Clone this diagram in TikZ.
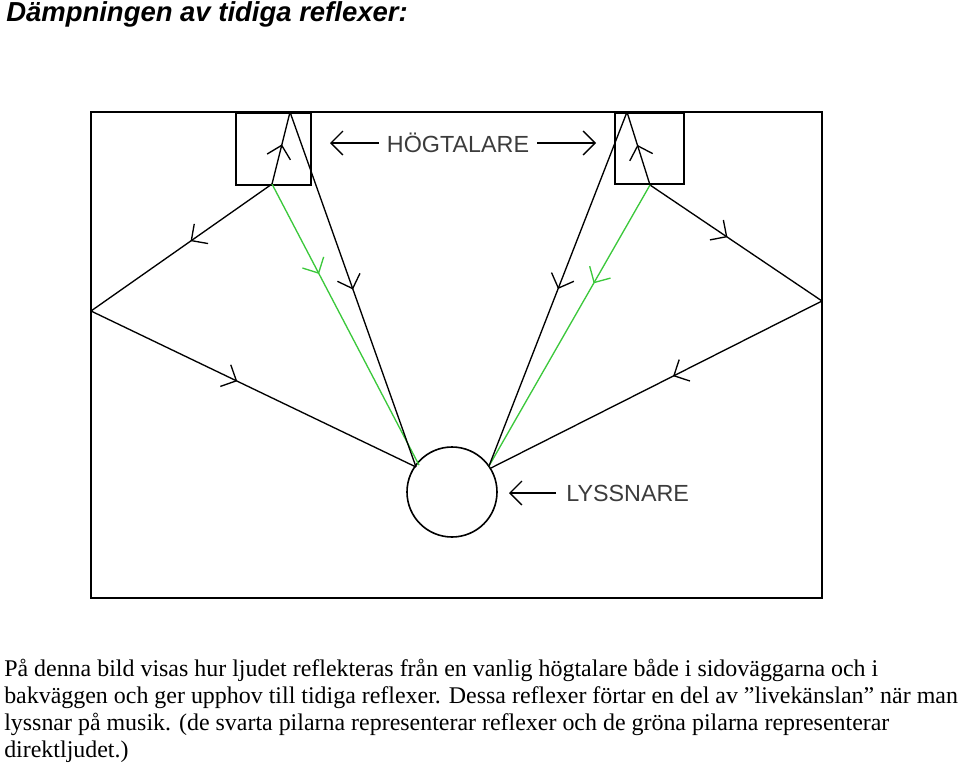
\documentclass[tikz,border=0pt]{standalone}
\usepackage{fontspec}
\setmainfont{Liberation Serif}
\setsansfont{Liberation Sans}
\usetikzlibrary{arrows.meta,decorations.markings}
\definecolor{grn}{RGB}{60,200,60}
\definecolor{lbl}{RGB}{60,60,60}
\tikzset{
  ray/.style={line width=1pt,postaction={decorate},decoration={markings,mark=at position #1 with {\arrow{Straight Barb[length=9pt,width=18pt,line width=1pt]}}}},
  ray/.default=0.5,
  greenray/.style={ray=#1,draw=grn},
  lblarrow/.style={line width=1pt,-{Straight Barb[length=9pt,width=18pt]}},
  lbl/.style={font=\sffamily\fontsize{17.5}{20}\selectfont,text=lbl,inner sep=0pt},
  body/.style={anchor=base west,inner sep=0pt,font=\fontsize{17.95}{20}\selectfont}
}
\begin{document}
\begin{tikzpicture}[x=0.75pt,y=-0.75pt]
\useasboundingbox (0,0) rectangle (960,772);
\node[anchor=base west,inner sep=0pt,font=\sffamily\bfseries\itshape\fontsize{20.6}{24}\selectfont] (title) at (6,21) {Dämpningen av tidiga reflexer:};
% room
\draw[line width=1.2pt] (91,112) rectangle (822,598);
\node[draw,line width=1.2pt,minimum width=75*0.75pt,minimum height=72*0.75pt,anchor=north west,inner sep=0] (spkL) at (235,112) {};
\node[draw,line width=1.2pt,minimum width=69*0.75pt,minimum height=71*0.75pt,anchor=north west,inner sep=0] (spkR) at (614,112) {};
\node[draw,line width=1.2pt,circle,minimum size=90*0.75pt,inner sep=0] (lis) at (452,492) {};
% points
\coordinate (sL) at (272,184);
\coordinate (sR) at (650,185);
\coordinate (wL) at (91,311);
\coordinate (wR) at (822,301);
\coordinate (tL) at (290,112);
\coordinate (tR) at (627,112);
\coordinate (eL1) at (416,467);
\coordinate (eL2) at (419,465);
\coordinate (eR1) at (489,466);
\coordinate (eR2) at (491,468);
% left
\draw[ray=0.45] (sL) -- (wL);
\draw[ray=0.45] (wL) -- (eL1);
\draw[greenray=0.32] (sL) -- (eL2);
\draw[ray=0.55] (sL) -- (tL);
\draw[ray=0.5] (tL) -- (eL1);
% right
\draw[ray=0.45] (sR) -- (wR);
\draw[ray=0.45] (wR) -- (eR2);
\draw[greenray=0.35] (sR) -- (eR1);
\draw[ray=0.55] (sR) -- (tR);
\draw[ray=0.5] (tR) -- (eR1);
% labels
\node[lbl] (hog) at (458,143) {HÖGTALARE};
\coordinate (hl) at (330,143);
\coordinate (hr) at (596,143);
\draw[lblarrow] (hog.west) ++(-8,0) -- (hl);
\draw[lblarrow] (hog.east) ++(8,0) -- (hr);
\node[lbl,anchor=west] (lys) at (566,493) {LYSSNARE};
\coordinate (ll) at (509,493);
\draw[lblarrow] (lys.west) ++(-10,0) -- (ll);
% text
\node[body] (t1) at (4,676) {På denna bild visas hur ljudet reflekteras från en vanlig högtalare både i sidoväggarna och i};
\node[body] (t2) at (4,703) {bakväggen och ger upphov till tidiga reflexer. Dessa reflexer förtar en del av ”livekänslan” när man};
\node[body] (t3) at (4,730) {lyssnar på musik. (de svarta pilarna representerar reflexer och de gröna pilarna representerar};
\node[body] (t4) at (4,757) {direktljudet.)};
\end{tikzpicture}
\end{document}
